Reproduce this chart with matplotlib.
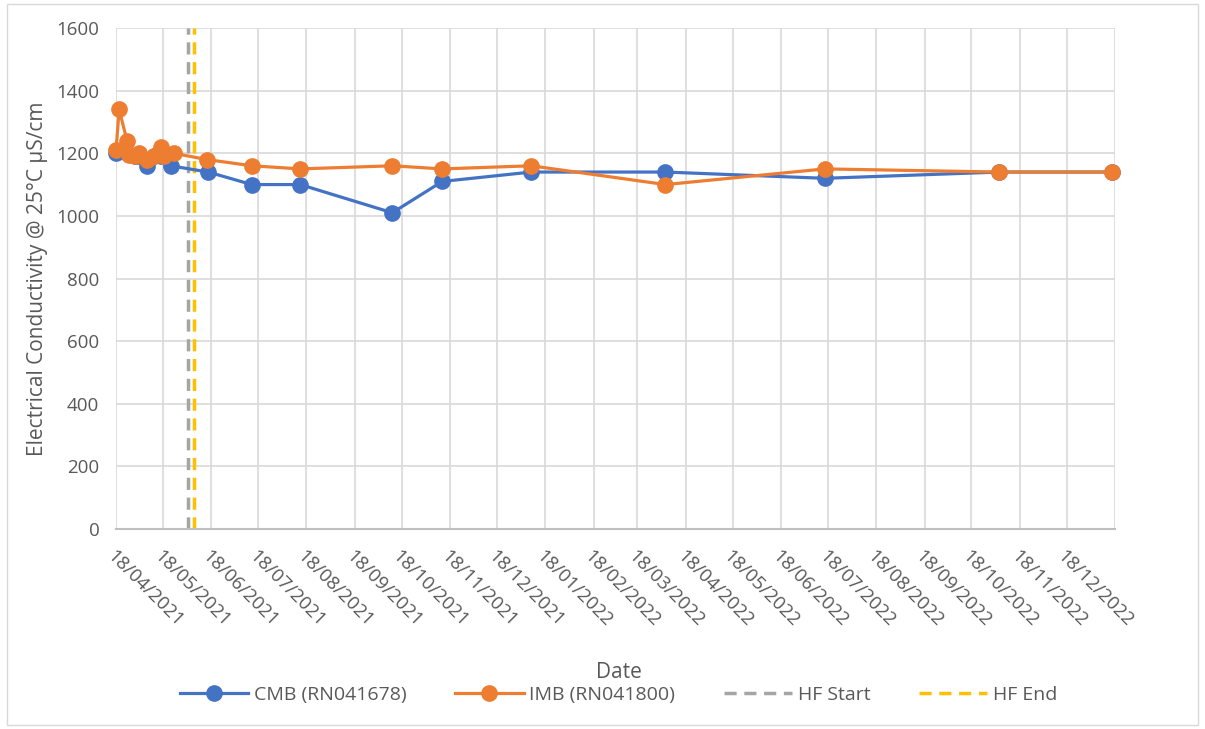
import numpy as np
import pandas as pd
import matplotlib
matplotlib.use("Agg")
import matplotlib.pyplot as plt
from matplotlib.patches import Rectangle

plt.rcParams['font.family'] = ['Open Sans', 'DejaVu Sans']

# CMB (RN041678)
cmb_dates = ['2021-04-18', '2021-04-25', '2021-04-30', '2021-05-03', '2021-05-08',
             '2021-05-12', '2021-05-17', '2021-05-23', '2021-06-16', '2021-07-14',
             '2021-08-14', '2021-10-12', '2021-11-13', '2022-01-09', '2022-04-05',
             '2022-07-16', '2022-11-05', '2023-01-16']
cmb_ec = [1200, 1200, 1190, 1190, 1160, 1190, 1190, 1160, 1140, 1100,
          1100, 1010, 1110, 1140, 1140, 1120, 1140, 1140]

# IMB (RN041800)
imb_dates = ['2021-04-18', '2021-04-20', '2021-04-25', '2021-04-26', '2021-04-30',
             '2021-05-03', '2021-05-08', '2021-05-12', '2021-05-17', '2021-05-19',
             '2021-05-25', '2021-06-15', '2021-07-14', '2021-08-14', '2021-10-12',
             '2021-11-13', '2022-01-09', '2022-04-05', '2022-07-16', '2022-11-05',
             '2023-01-16']
imb_ec = [1210, 1340, 1240, 1195, 1190, 1200, 1180, 1190, 1220, 1190,
          1200, 1180, 1160, 1150, 1160, 1150, 1160, 1100, 1150, 1140, 1140]

hf_start = '2021-06-03'
hf_end = '2021-06-07'

tick_dates = pd.date_range('2021-04-01', '2023-01-01', freq='MS') + pd.Timedelta(days=17)
tick_labels = [d.strftime('%d/%m/%Y') for d in tick_dates]
tick_labels[-1] = ''

fig = plt.figure(figsize=(12.05, 7.29), dpi=100)
fig.patches.append(Rectangle((0.006, 0.006), 0.988, 0.988, transform=fig.transFigure,
                             fill=False, edgecolor='#d9d9d9', linewidth=1))
ax = fig.add_axes([0.0963, 0.2743, 0.829, 0.6873])

blue = '#4472c4'
orange = '#ed7d31'
ax.plot(pd.to_datetime(cmb_dates), cmb_ec, color=blue, lw=2.3, marker='o', ms=11,
        label='CMB (RN041678)', zorder=3, clip_on=False)
ax.plot(pd.to_datetime(imb_dates), imb_ec, color=orange, lw=2.3, marker='o', ms=11,
        label='IMB (RN041800)', zorder=4, clip_on=False)
ax.plot(pd.to_datetime([hf_start, hf_start]), [0, 1600], color='#a5a5a5', lw=2.5,
        ls=(0, (3.5, 2.2)), label='HF Start', zorder=2)
ax.plot(pd.to_datetime([hf_end, hf_end]), [0, 1600], color='#ffc000', lw=2.5,
        ls=(0, (3.5, 2.2)), label='HF End', zorder=2)

ax.set_xlim(tick_dates[0], tick_dates[-1])
ax.set_ylim(0, 1600)
ax.set_yticks(np.arange(0, 1601, 200))
ax.set_xticks(tick_dates)
ax.set_xticklabels(tick_labels, rotation=-45, ha='left', va='top', rotation_mode='anchor')
ax.tick_params(axis='both', length=0, labelsize=13.5, colors='#595959')
ax.tick_params(axis='x', pad=13)
ax.tick_params(axis='y', pad=12)
ax.grid(True, color='#d9d9d9', lw=1.2)
ax.set_axisbelow(True)
for s in ['top', 'right', 'left']:
    ax.spines[s].set_visible(False)
ax.spines['bottom'].set_color('#bfbfbf')
ax.spines['bottom'].set_linewidth(1.5)

ax.set_ylabel('Electrical Conductivity @ 25°C µS/cm', fontsize=15, color='#595959', labelpad=6)
fig.text(0.5135, 0.077, 'Date', ha='center', va='center', fontsize=15, color='#595959')

leg = fig.legend(loc='center', bbox_to_anchor=(0.5135, 0.047), ncol=4, frameon=False,
                 fontsize=14, handlelength=3.5, columnspacing=2.5, handletextpad=0.3)
for t in leg.get_texts():
    t.set_color('#595959')

fig.savefig('out.png', dpi=100)
